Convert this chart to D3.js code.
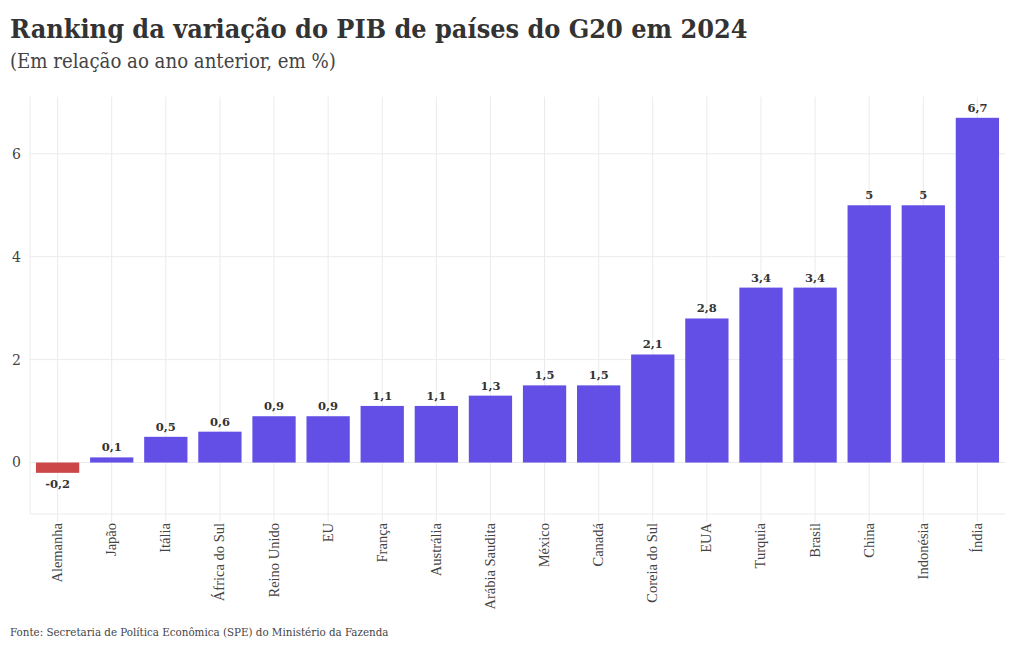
<!DOCTYPE html>
<html><head><meta charset="utf-8">
<script src="https://cdn.jsdelivr.net/npm/d3@7"></script>
<style>body{margin:0;background:#fff}</style>
</head><body>
<svg id="c" width="1020" height="650"></svg>
<script>
const categories = ["Alemanha","Japão","Itália","África do Sul","Reino Unido","EU","França","Austrália","Arábia Saudita","México","Canadá","Coreia do Sul","EUA","Turquia","Brasil","China","Indonésia","Índia"];
const values = [-0.2,0.1,0.5,0.6,0.9,0.9,1.1,1.1,1.3,1.5,1.5,2.1,2.8,3.4,3.4,5,5,6.7];
const yTicks = [0,2,4,6];
const title = "Ranking da variação do PIB de países do G20 em 2024";
const subtitle = "(Em relação ao ano anterior, em %)";
const source = "Fonte: Secretaria de Política Econômica (SPE) do Ministério da Fazenda";

const FONT = "'Liberation Serif', 'DejaVu Serif', serif";
const HFONT = "'DejaVu Serif', 'Liberation Serif', serif";
const svg = d3.select("#c");
const pL = 30, pR = 1005, pT = 96.7, pB = 514;
const x = d3.scaleBand().domain(categories).range([pL, pR]).paddingInner(0.2).paddingOuter(0.11);
const y = d3.scaleLinear().domain([-1, 7.11]).range([pB, pT]);
const loc = d3.formatLocale({decimal: ",", thousands: ".", grouping: [3], currency: ["", ""], minus: "-"});
const fmt = v => loc.format("~g")(v);
const grid = "#ebebeb";
const cx = d => x(d) + x.bandwidth()/2;

svg.append("line").attr("x1", pL).attr("x2", pL).attr("y1", pT).attr("y2", pB).attr("stroke", grid);
svg.selectAll("line.vg").data(categories).join("line").attr("class","vg")
  .attr("x1", cx).attr("x2", cx)
  .attr("y1", pT).attr("y2", pB + 8).attr("stroke", grid);
svg.selectAll("line.hg").data(yTicks.concat([-1])).join("line").attr("class","hg")
  .attr("x1", pL).attr("x2", pR).attr("y1", d => y(d)).attr("y2", d => y(d)).attr("stroke", grid);

svg.selectAll("text.yt").data(yTicks).join("text").attr("class","yt")
  .attr("x", 21).attr("y", d => y(d)).attr("dy", "0.35em").attr("text-anchor","end")
  .attr("font-family", HFONT).attr("font-size", 14).attr("fill", "#444").text(d => d);

svg.selectAll("rect.bar").data(categories).join("rect").attr("class","bar")
  .attr("x", d => x(d)).attr("width", x.bandwidth())
  .attr("y", (d,i) => y(Math.max(0, values[i])))
  .attr("height", (d,i) => Math.abs(y(values[i]) - y(0)))
  .attr("fill", (d,i) => values[i] < 0 ? "#cc4747" : "#634fe6");

svg.selectAll("text.vl").data(categories).join("text").attr("class","vl")
  .attr("x", cx)
  .attr("y", (d,i) => values[i] < 0 ? y(values[i]) + 15 : y(values[i]) - 6)
  .attr("text-anchor","middle").attr("font-family", HFONT).attr("font-size", 11.5)
  .attr("font-weight","bold").attr("fill", "#333").text((d,i) => fmt(values[i]));

svg.selectAll("text.xl").data(categories).join("text").attr("class","xl")
  .attr("transform", d => `translate(${cx(d) + 4.5},${pB + 9}) rotate(-90)`)
  .attr("text-anchor","end").attr("font-family", FONT).attr("font-size", 14.5)
  .attr("fill", "#444").text(d => d);

function fitText(sel, target) {
  const w = sel.node().getComputedTextLength();
  const fs = parseFloat(sel.attr("font-size"));
  sel.attr("font-size", fs * target / w);
}
const t1 = svg.append("text").attr("x", 10).attr("y", 38).attr("font-family", HFONT).attr("font-weight","bold")
  .attr("font-stretch","condensed").attr("font-size", 28).attr("fill", "#333").text(title);
fitText(t1, 738);
const t2 = svg.append("text").attr("x", 10).attr("y", 68).attr("font-family", HFONT)
  .attr("font-stretch","condensed").attr("font-size", 18).attr("fill", "#444").text(subtitle);
fitText(t2, 326);
const t3 = svg.append("text").attr("x", 10).attr("y", 636).attr("font-family", HFONT)
  .attr("font-stretch","condensed").attr("font-size", 12).attr("fill", "#444").text(source);
fitText(t3, 379);
</script>
</body></html>
